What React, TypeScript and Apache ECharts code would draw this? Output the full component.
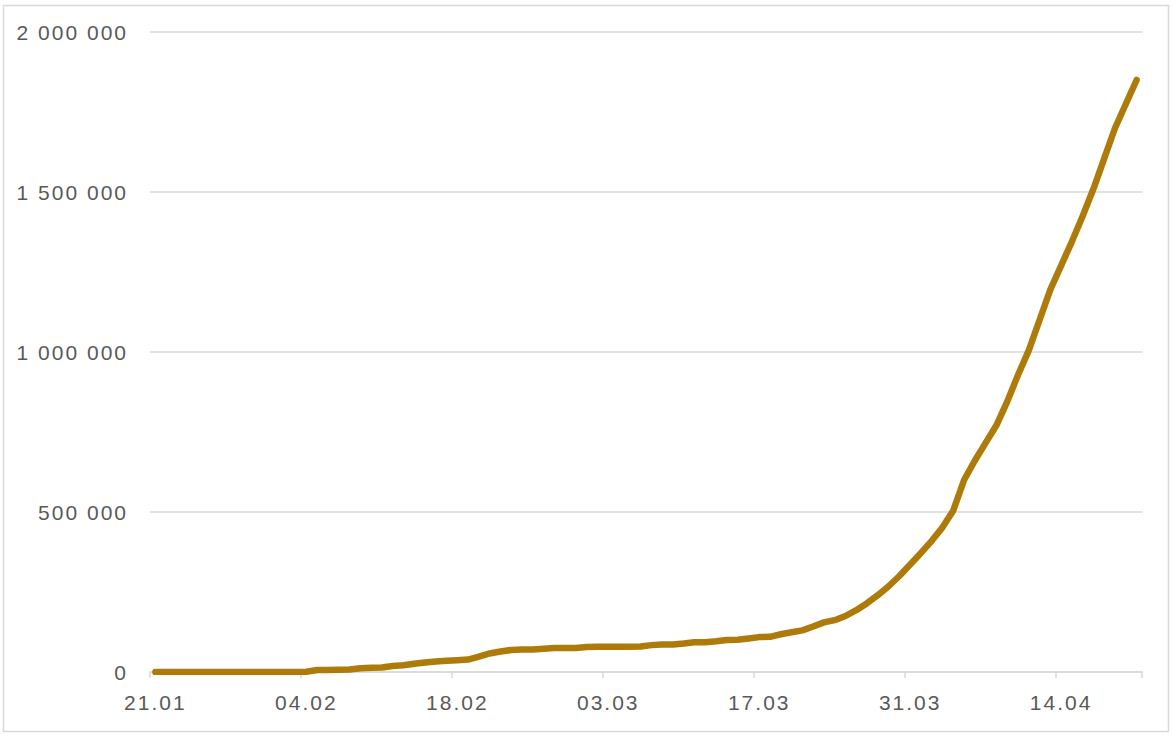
import React, { useEffect, useRef } from "react";
import * as echarts from "echarts";

// Daily categories from 21.01 to 21.04 (2020)
const startDate = new Date(2020, 0, 21);
const dayCount = 92;
const categories: string[] = [];
for (let i = 0; i < dayCount; i++) {
  const d = new Date(startDate.getFullYear(), startDate.getMonth(), startDate.getDate() + i);
  const dd = String(d.getDate()).padStart(2, "0");
  const mm = String(d.getMonth() + 1).padStart(2, "0");
  categories.push(`${dd}.${mm}`);
}

// Cumulative values
const values: number[] = [
  // 21.01 - 03.02
  0, 0, 0, 0, 0, 0, 0, 0, 0, 0, 0, 0, 0, 0,
  // 04.02 - 17.02
  1000, 6000, 6000, 7000, 8000, 12000, 13000, 14000, 19000, 21000, 26000, 30000, 33000, 35000,
  // 18.02 - 02.03
  37000, 39000, 48000, 58000, 64000, 69000, 70000, 70000, 73000, 75000, 75000, 75000, 78000, 79000,
  // 03.03 - 16.03
  79000, 79000, 79000, 80000, 84000, 86000, 86000, 89000, 93000, 93000, 96000, 100000, 101000, 105000,
  // 17.03 - 30.03
  109000, 110000, 118000, 124000, 130000, 142000, 155000, 162000, 175000, 193000, 215000, 240000, 268000, 300000,
  // 31.03 - 13.04
  336000, 372000, 410000, 452000, 505000, 600000, 661000, 716000, 771000, 845000, 928000, 1005000, 1100000, 1195000,
  // 14.04 - 21.04
  1270000, 1345000, 1425000, 1510000, 1605000, 1700000, 1775000, 1850000,
];

const yTicks = { min: 0, max: 2000000, interval: 500000 };

const formatThousands = (v: number) =>
  String(Math.round(v)).replace(/\B(?=(\d{3})+(?!\d))/g, " ");

export default function App() {
  const ref = useRef<HTMLDivElement>(null);

  useEffect(() => {
    if (!ref.current) return;
    const chart = echarts.init(ref.current, undefined, { renderer: "svg" });
    const textColor = "#595959";
    const gridColor = "#d9d9d9";
    chart.setOption({
      animation: false,
      backgroundColor: "#ffffff",
      textStyle: { fontFamily: "Liberation Sans, Arial, sans-serif" },
      graphic: [
        {
          type: "rect",
          shape: { x: 3.5, y: 5.5, width: 1165, height: 726 },
          style: { fill: "none", stroke: gridColor, lineWidth: 1.5 },
          silent: true,
        },
      ],
      grid: { left: 150, right: 32, top: 32, bottom: 64, containLabel: false },
      xAxis: {
        type: "category",
        data: categories,
        boundaryGap: true,
        axisLine: { show: true, lineStyle: { color: gridColor, width: 1.5 } },
        axisTick: { show: true, interval: 13, length: 6, lineStyle: { color: gridColor, width: 1.5 } },
        axisLabel: {
          interval: 13,
          color: textColor,
          fontSize: 21,
          margin: 20,
          fontFamily: "Liberation Sans, Arial, sans-serif",
        },
        splitLine: { show: false },
      },
      yAxis: {
        type: "value",
        min: yTicks.min,
        max: yTicks.max,
        interval: yTicks.interval,
        axisLine: { show: false },
        axisTick: { show: false },
        axisLabel: {
          color: textColor,
          fontSize: 21,
          margin: 22,
          fontFamily: "Liberation Sans, Arial, sans-serif",
          formatter: (v: number) => formatThousands(v),
        },
        splitLine: { show: true, lineStyle: { color: gridColor, width: 1.5 } },
      },
      series: [
        {
          type: "line",
          data: values,
          showSymbol: false,
          smooth: false,
          lineStyle: { color: "#AE7B0A", width: 6.5, cap: "round", join: "round" },
          itemStyle: { color: "#AE7B0A" },
        },
      ],
    });
    return () => chart.dispose();
  }, []);

  return (
    <div
      ref={ref}
      style={{
        position: "absolute",
        left: 0,
        top: 0,
        width: 1174,
        height: 736,
        letterSpacing: "2px",
      }}
    />
  );
}
